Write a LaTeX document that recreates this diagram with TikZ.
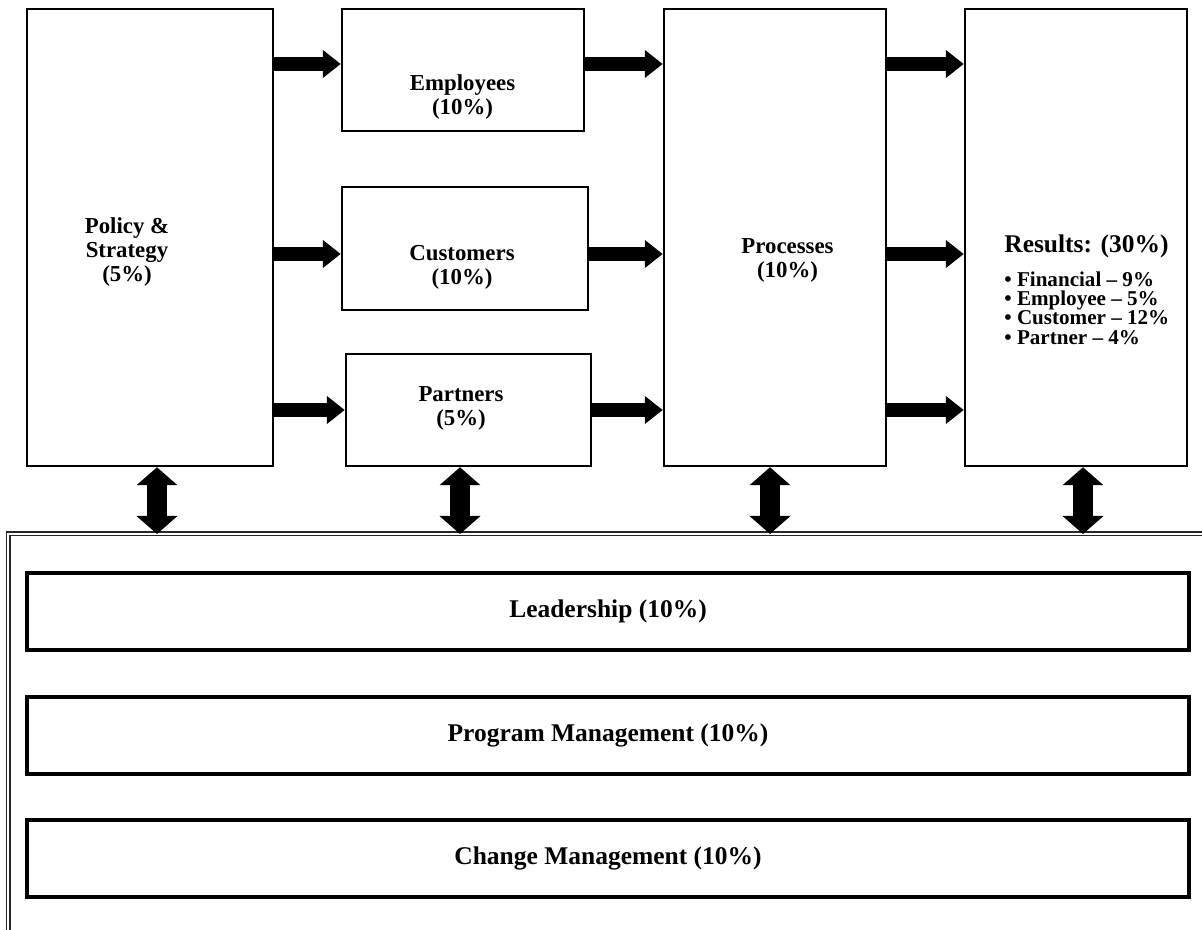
\documentclass[tikz,border=0pt]{standalone}
\usepackage{fontspec}
\setmainfont{Liberation Serif}
\usetikzlibrary{arrows.meta}

\begin{document}
\begin{tikzpicture}[box/.style={draw,line width=0.05cm,inner sep=0pt}, bar/.style={draw,line width=0.08cm,minimum width=23.24cm,minimum height=1.54cm,font=\bfseries\fontsize{14.5}{13.7}\selectfont}, lbl/.style={align=center,font=\bfseries\fontsize{13}{13.7}\selectfont}, fat/.style={line width=0.28cm,-{Triangle[length=0.36cm,width=0.54cm]}}, twoway/.style={line width=0.40cm,{Triangle[length=0.36cm,width=0.80cm]}-{Triangle[length=0.36cm,width=0.80cm]}}]
    \useasboundingbox (0,0) rectangle (24.04,-18.6);

    % top row of boxes
    \node (pol) at (3.0,-4.75) [box,minimum width=4.92cm,minimum height=9.14cm] {}; \node (emp) at (9.26,-1.40) [box,minimum width=4.84cm,minimum height=2.44cm] {}; \node (cus) at (9.30,-4.97) [box,minimum width=4.92cm,minimum height=2.46cm] {}; \node (par) at (9.37,-8.20) [box,minimum width=4.90cm,minimum height=2.24cm] {}; \node (pro) at (15.5,-4.75) [box,minimum width=4.44cm,minimum height=9.14cm] {}; \node (res) at (21.52,-4.75) [box,minimum width=4.44cm,minimum height=9.14cm] {};

    \node[lbl] (poltxt) at (2.54,-5.04) {Policy \&\\Strategy\\(5\%)}; \node[lbl] (emptxt) at (9.25,-1.94) {Employees\\(10\%)}; \node[lbl] (custxt) at (9.24,-5.34) {Customers\\(10\%)}; \node[lbl] (partxt) at (9.22,-8.16) {Partners\\(5\%)}; \node[lbl] (protxt) at (15.75,-5.2) {Processes\\(10\%)};
    \node[lbl,anchor=west,inner sep=0pt,font=\bfseries\fontsize{14.5}{13.7}\selectfont] (restxt) at (20.08,-4.92) {Results: (30\%)}; \node[anchor=west,align=left,inner sep=0pt,font=\bfseries\fontsize{12}{11}\selectfont] (reslist) at (20.08,-6.16) {• Financial – 9\%\\• Employee – 5\%\\• Customer – 12\%\\• Partner – 4\%};

    % bottom frame and bars
    \coordinate (frame) at (0.16,-10.68); \draw[black!85,line width=0.03cm,double,double distance=0.04cm] (0.16,-18.8) -- (frame) -- (24.3,-10.68);
    \node[bar] (lead) at (12.16,-12.23) {Leadership (10\%)}; \node[bar] (prog) at (12.16,-14.70) {Program Management (10\%)}; \node[bar] (chg) at (12.16,-17.17) {Change Management (10\%)};

    \path ([yshift=0.12cm]emp.west) coordinate (e1); \draw[fat] (pol.east |- e1) -- (e1); \draw[fat] (emp.east |- e1) -- (pro.west |- e1); \draw[fat] (pro.east |- e1) -- (res.west |- e1);

    \path ([yshift=-0.11cm]cus.west) coordinate (c1); \draw[fat] (pol.east |- c1) -- (c1); \draw[fat] (cus.east |- c1) -- (pro.west |- c1); \draw[fat] (pro.east |- c1) -- (res.west |- c1);

    \path (par.west) coordinate (r1); \draw[fat] (pol.east |- r1) -- (r1); \draw[fat] (par.east) -- (pro.west |- r1); \draw[fat] (pro.east |- r1) -- (res.west |- r1);

    \path ([xshift=0.14cm]pol.south) coordinate (p1); \draw[twoway] (p1) -- (p1 |- frame); \path ([xshift=-0.17cm]par.south) coordinate (p2); \draw[twoway] (p2) -- (p2 |- frame); \path ([xshift=-0.10cm]pro.south) coordinate (p3); \draw[twoway] (p3) -- (p3 |- frame); \path ([xshift=0.14cm]res.south) coordinate (p4); \draw[twoway] (p4) -- (p4 |- frame);

    \end{tikzpicture}
\end{document}
